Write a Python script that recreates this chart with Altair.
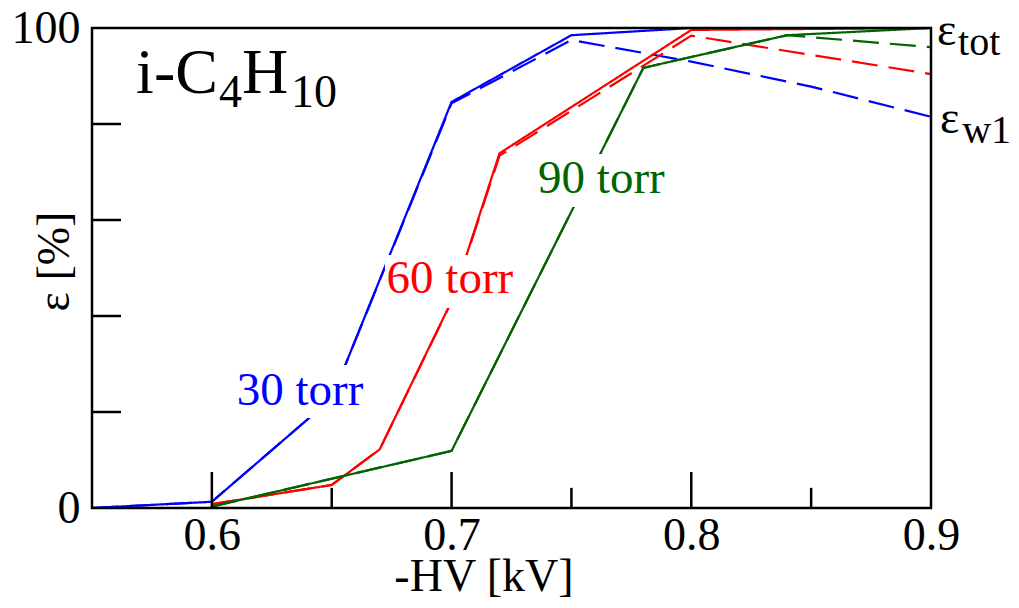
import altair as alt
import pandas as pd

# ---- data ----
hv_30 = [0.55, 0.60, 0.65, 0.70, 0.75, 0.80, 0.85, 0.90]
tot_30 = [0.0, 1.3, 22.8, 84.6, 98.5, 100.0, 100.0, 100.0]
w1_30 = [0.0, 1.3, 22.8, 84.3, 97.5, 93.0, 87.8, 81.5]

hv_60 = [0.60, 0.65, 0.67, 0.70, 0.72, 0.80, 0.85, 0.90]
tot_60 = [0.8, 4.8, 12.2, 43.1, 73.9, 99.6, 99.8, 100.0]
w1_60 = [0.8, 4.8, 12.2, 43.0, 73.4, 98.4, 94.4, 90.4]

hv_90 = [0.60, 0.70, 0.78, 0.84, 0.90]
tot_90 = [0.3, 11.9, 91.7, 98.5, 100.0]
w1_90 = [0.3, 11.9, 91.7, 98.5, 96.0]

series_names = ["30", "60", "90"]
series_colors = ["#0000ff", "#ff0000", "#006400"]

x_tick_labels = [0.6, 0.7, 0.8, 0.9]
y_tick_labels = [0, 100]
x_major_ticks = [0.6, 0.7, 0.8]
x_minor_ticks = [0.65, 0.75, 0.85]
y_minor_ticks = [20, 40, 60, 80]

# pressure labels (text, left x, baseline y)
torr_text = ["30 torr", "60 torr", "90 torr"]
torr_x = [0.6104, 0.6729, 0.7361]
torr_y = [21.5, 44.7, 65.7]
# white boxes behind the pressure labels
box_x = [0.6092, 0.6722, 0.7352]
box_x2 = [0.6651, 0.7277, 0.7911]
box_y = [18.75, 41.67, 62.71]
box_y2 = [29.79, 52.71, 73.75]

# title pieces i-C4H10
title_text = ["i-C", "4", "H", "10"]
title_x = [0.5684, 0.6030, 0.6126, 0.6330]
title_y = [86.5, 83.5, 86.5, 83.5]
title_size = [64, 46, 64, 46]

# right labels eps_tot, eps_w1
right_text = ["ε", "tot", "ε", "w1"]
right_x = [0.9025, 0.9113, 0.9038, 0.9130]
right_y = [96.5, 94.4, 78.1, 76.0]
right_size = [46, 40, 46, 40]

FONT = "Liberation Serif"

rows = []
for name, hv, tot, w1 in [("30", hv_30, tot_30, w1_30),
                          ("60", hv_60, tot_60, w1_60),
                          ("90", hv_90, tot_90, w1_90)]:
    for xv, yv in zip(hv, w1):
        rows.append({"series": name, "kind": "w1", "hv": xv, "eff": yv})
    for xv, yv in zip(hv, tot):
        rows.append({"series": name, "kind": "tot", "hv": xv, "eff": yv})
df = pd.DataFrame(rows)
df["key"] = df["series"] + "_" + df["kind"]

xs = alt.Scale(domain=[0.55, 0.9], nice=False, zero=False)
ys = alt.Scale(domain=[0, 100], nice=False, zero=False)

x_axis = alt.Axis(values=x_tick_labels, format=".1f", labelFont=FONT, labelFontSize=46,
                  labelColor="black", labelFlush=False, labelOverlap=False,
                  labelBaseline="alphabetic", labelPadding=41,
                  ticks=False, tickSize=0, domain=False, grid=False,
                  title="-HV [kV]", titleFont=FONT, titleFontSize=46,
                  titleFontWeight="normal", titleColor="black",
                  titleBaseline="alphabetic", titleAlign="center",
                  titleX=391.5, titleY=82)
y_axis = alt.Axis(values=y_tick_labels, format="d", labelFont=FONT, labelFontSize=46,
                  labelColor="black", labelOverlap=False, labelFlush=False,
                  labelBaseline="alphabetic", labelOffset=14, labelPadding=12,
                  ticks=False, tickSize=0, domain=False, grid=False,
                  title="ε [%]", titleFont=FONT, titleFontSize=46,
                  titleFontWeight="normal", titleColor="black",
                  titleAngle=270, titleBaseline="alphabetic", titleAlign="center",
                  titleX=-24, titleY=233)

lines = alt.Chart(df).mark_line(strokeWidth=2.2).encode(
    x=alt.X("hv:Q", scale=xs, axis=x_axis),
    y=alt.Y("eff:Q", scale=ys, axis=y_axis),
    color=alt.Color("series:N", scale=alt.Scale(domain=series_names, range=series_colors), legend=None),
    strokeDash=alt.StrokeDash("kind:N", scale=alt.Scale(domain=["tot", "w1"], range=[[1, 0], [26, 11]]), legend=None),
    detail="key:N",
    order=alt.Order("hv:Q"),
)

box_df = pd.DataFrame({"x": box_x, "x2": box_x2, "y": box_y, "y2": box_y2})
boxes = alt.Chart(box_df).mark_rect(color="white").encode(
    x=alt.X("x:Q", scale=xs), x2="x2:Q", y=alt.Y("y:Q", scale=ys), y2="y2:Q")

torr_df = pd.DataFrame({"t": torr_text, "x": torr_x, "y": torr_y, "c": series_colors})
torr = alt.Chart(torr_df).mark_text(font=FONT, fontSize=47, align="left", baseline="alphabetic").encode(
    x=alt.X("x:Q", scale=xs), y=alt.Y("y:Q", scale=ys), text="t:N",
    color=alt.Color("c:N", scale=None))

title_df = pd.DataFrame({"t": title_text, "x": title_x, "y": title_y, "s": title_size})
title = alt.Chart(title_df).mark_text(font=FONT, align="left", baseline="alphabetic", color="black").encode(
    x=alt.X("x:Q", scale=xs), y=alt.Y("y:Q", scale=ys), text="t:N",
    size=alt.Size("s:Q", scale=None, legend=None))

right_df = pd.DataFrame({"t": right_text, "x": right_x, "y": right_y, "s": right_size})
right = alt.Chart(right_df).mark_text(font=FONT, align="left", baseline="alphabetic", color="black").encode(
    x=alt.X("x:Q", scale=xs), y=alt.Y("y:Q", scale=ys), text="t:N",
    size=alt.Size("s:Q", scale=None, legend=None))

# inward ticks
xt_df = pd.DataFrame({"x": x_major_ticks + x_minor_ticks,
                      "y": [0.0] * 6,
                      "y2": [7.5] * 3 + [4.2] * 3})
xticks = alt.Chart(xt_df).mark_rule(color="black", strokeWidth=2.5).encode(
    x=alt.X("x:Q", scale=xs), y=alt.Y("y:Q", scale=ys), y2="y2:Q")
yt_df = pd.DataFrame({"y": y_minor_ticks, "x": [0.55] * 4, "x2": [0.5621] * 4})
yticks = alt.Chart(yt_df).mark_rule(color="black", strokeWidth=2.5).encode(
    y=alt.Y("y:Q", scale=ys), x=alt.X("x:Q", scale=xs), x2="x2:Q")

# plot frame
frame_df = pd.DataFrame({"x": [0.55], "x2": [0.9], "y": [0], "y2": [100]})
frame = alt.Chart(frame_df).mark_rect(filled=False, stroke="black", strokeWidth=2.5).encode(
    x=alt.X("x:Q", scale=xs), x2="x2:Q", y=alt.Y("y:Q", scale=ys), y2="y2:Q")

chart = alt.layer(lines, boxes, torr, title, right, xticks, yticks, frame).properties(
    width=839, height=480,
    background="white",
    autosize=alt.AutoSizeParams(type="none"),
    padding={"left": 84, "top": 20, "right": 80, "bottom": 92},
).configure_view(stroke=None).configure_text(font=FONT).configure_axis(labelFont=FONT, titleFont=FONT)

chart.save("out.html", embed_options={"renderer": "svg", "actions": False})
